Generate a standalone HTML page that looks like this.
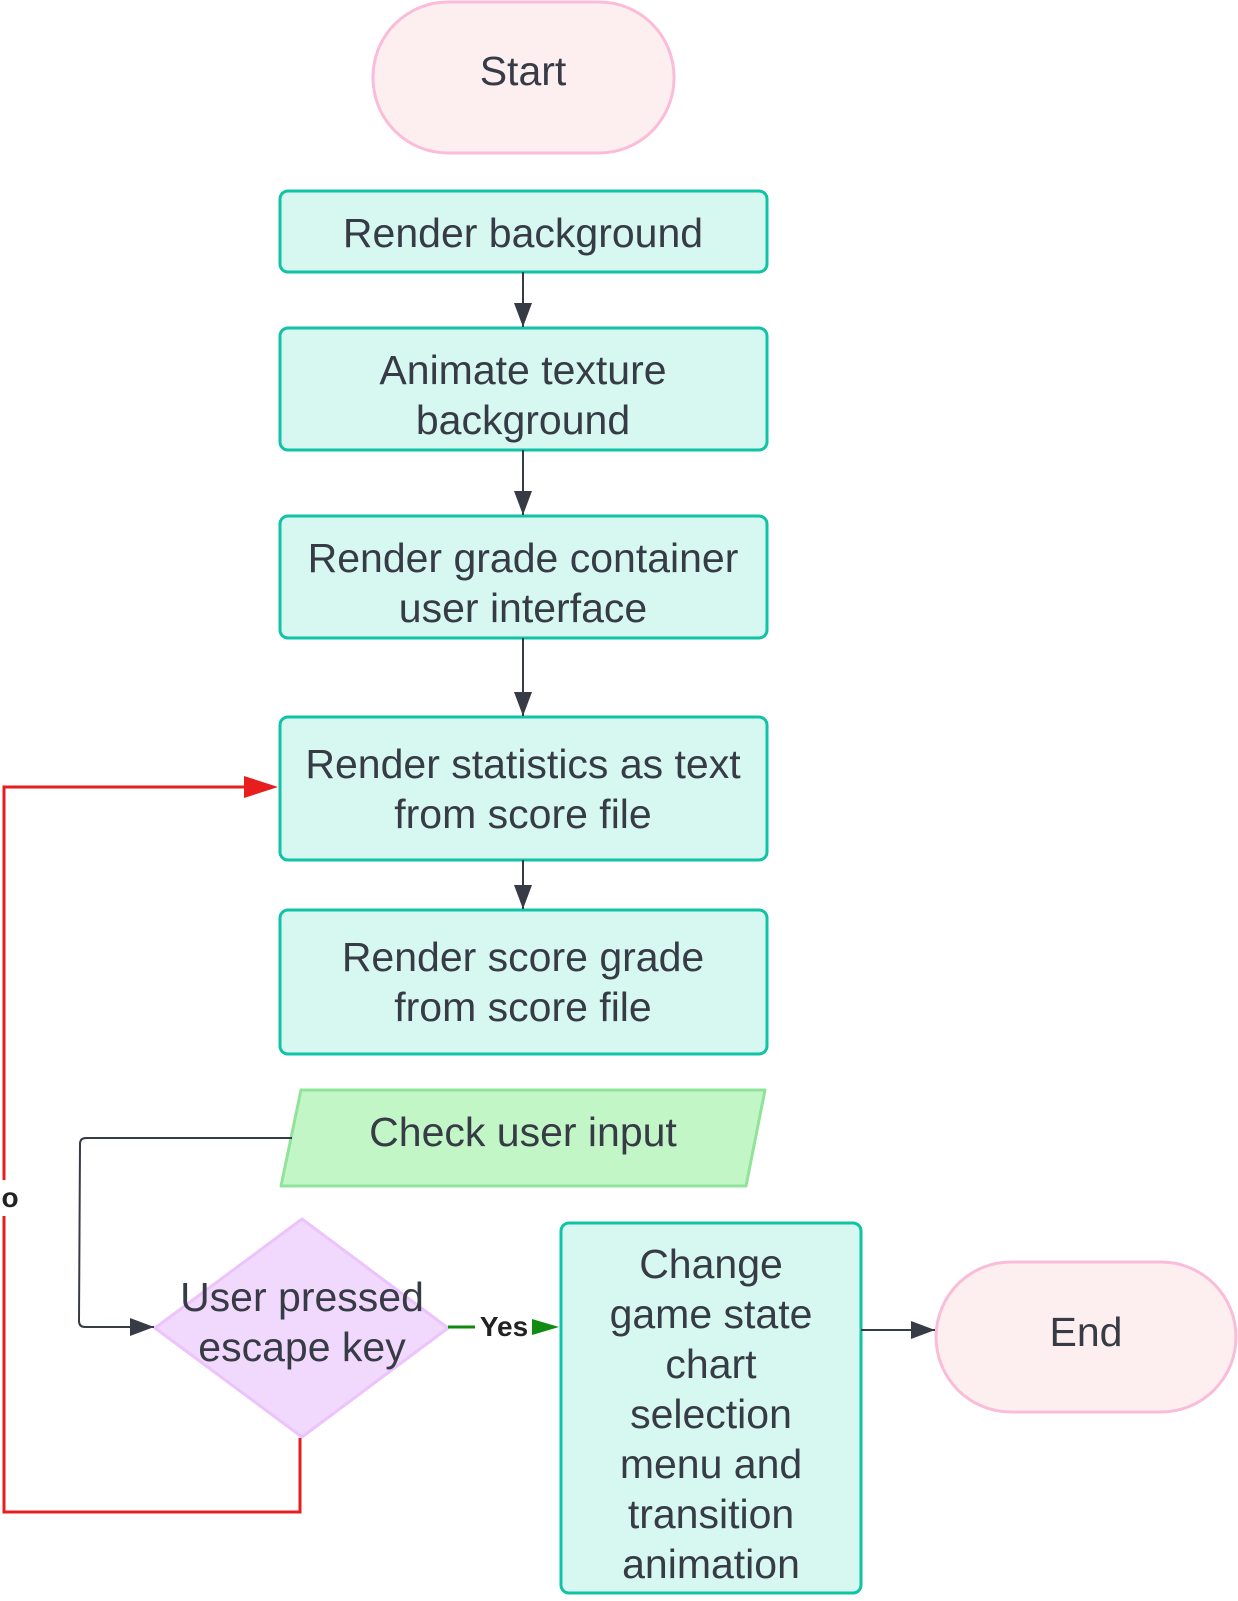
<!DOCTYPE html>
<html><head><meta charset="utf-8"><style>
body{margin:0;background:#fff;}
svg text{font-family:"Liberation Sans",sans-serif;fill:#363b45;font-size:41px;text-anchor:middle;}
</style></head><body>
<svg width="1238" height="1596" viewBox="0 0 1238 1596" xmlns="http://www.w3.org/2000/svg">
<defs>
<marker id="ad" markerWidth="24" markerHeight="20" refX="24" refY="10" orient="auto" markerUnits="userSpaceOnUse" viewBox="0 0 24 20"><path d="M0,1 L24,10 L0,19 z" fill="#363b45"/></marker>
</defs>
<g stroke-width="3">
<rect x="373" y="2" width="301" height="151" rx="75" fill="#fdefef" stroke="#fbbcd9"/>
<rect x="280" y="191" width="487" height="81" rx="8" fill="#d6f8f1" stroke="#10c2a6"/>
<rect x="280" y="328" width="487" height="122" rx="8" fill="#d6f8f1" stroke="#10c2a6"/>
<rect x="280" y="516" width="487" height="122" rx="8" fill="#d6f8f1" stroke="#10c2a6"/>
<rect x="280" y="717" width="487" height="143" rx="8" fill="#d6f8f1" stroke="#10c2a6"/>
<rect x="280" y="910" width="487" height="144" rx="8" fill="#d6f8f1" stroke="#10c2a6"/>
<path d="M301,1090 L765,1090 L746,1186 L281,1186 Z" fill="#c3f6c7" stroke="#8fe49a" stroke-linejoin="round"/>
<path d="M302,1219 L448,1328 L302,1437 L155,1328 Z" fill="#f1d8fd" stroke="#ecc3fb" stroke-linejoin="round"/>
<rect x="561" y="1223" width="300" height="370" rx="8" fill="#d6f8f1" stroke="#10c2a6"/>
<rect x="936" y="1262" width="300" height="150" rx="75" fill="#fdefef" stroke="#fbbcd9"/>
</g>
<g stroke="#363b45" stroke-width="2" fill="none">
<line x1="523" y1="272" x2="523" y2="327" marker-end="url(#ad)"/>
<line x1="523" y1="450" x2="523" y2="515" marker-end="url(#ad)"/>
<line x1="523" y1="638" x2="523" y2="716" marker-end="url(#ad)"/>
<line x1="523" y1="860" x2="523" y2="909" marker-end="url(#ad)"/>
<path d="M292,1138 L86,1138 Q80,1138 80,1144 L79,1321 Q79,1327 85,1327 L154,1327" marker-end="url(#ad)"/>
<line x1="861" y1="1330" x2="935" y2="1330" marker-end="url(#ad)"/>
</g>
<path d="M300,1438 L300,1512 L4,1512 L4,787 L270,787" stroke="#e81d1d" stroke-width="3" fill="none"/>
<path d="M244,776 L278,787 L244,798 Z" fill="#e81d1d"/>
<line x1="448" y1="1327" x2="475" y2="1327" stroke="#118a11" stroke-width="3"/>
<path d="M532,1319 L559,1327 L532,1335 Z" fill="#118a11"/>
<text x="504" y="1336" style="font-size:28px;font-weight:bold;fill:#222">Yes</text>
<rect x="0" y="1180" width="24" height="36" fill="#fff"/>
<text x="10" y="1207" style="font-size:28px;font-weight:bold;fill:#222">o</text>
<text x="523" y="85">Start</text>
<text x="523" y="247">Render background</text>
<text x="523" y="384">Animate texture</text>
<text x="523" y="434">background</text>
<text x="523" y="572">Render grade container</text>
<text x="523" y="622">user interface</text>
<text x="523" y="778">Render statistics as text</text>
<text x="523" y="828">from score file</text>
<text x="523" y="971">Render score grade</text>
<text x="523" y="1021">from score file</text>
<text x="523" y="1146">Check user input</text>
<text x="302" y="1311">User pressed</text>
<text x="302" y="1361">escape key</text>
<text x="711" y="1278">Change</text>
<text x="711" y="1328">game state</text>
<text x="711" y="1378">chart</text>
<text x="711" y="1428">selection</text>
<text x="711" y="1478">menu and</text>
<text x="711" y="1528">transition</text>
<text x="711" y="1578">animation</text>
<text x="1086" y="1346">End</text>
</svg>
</body></html>
